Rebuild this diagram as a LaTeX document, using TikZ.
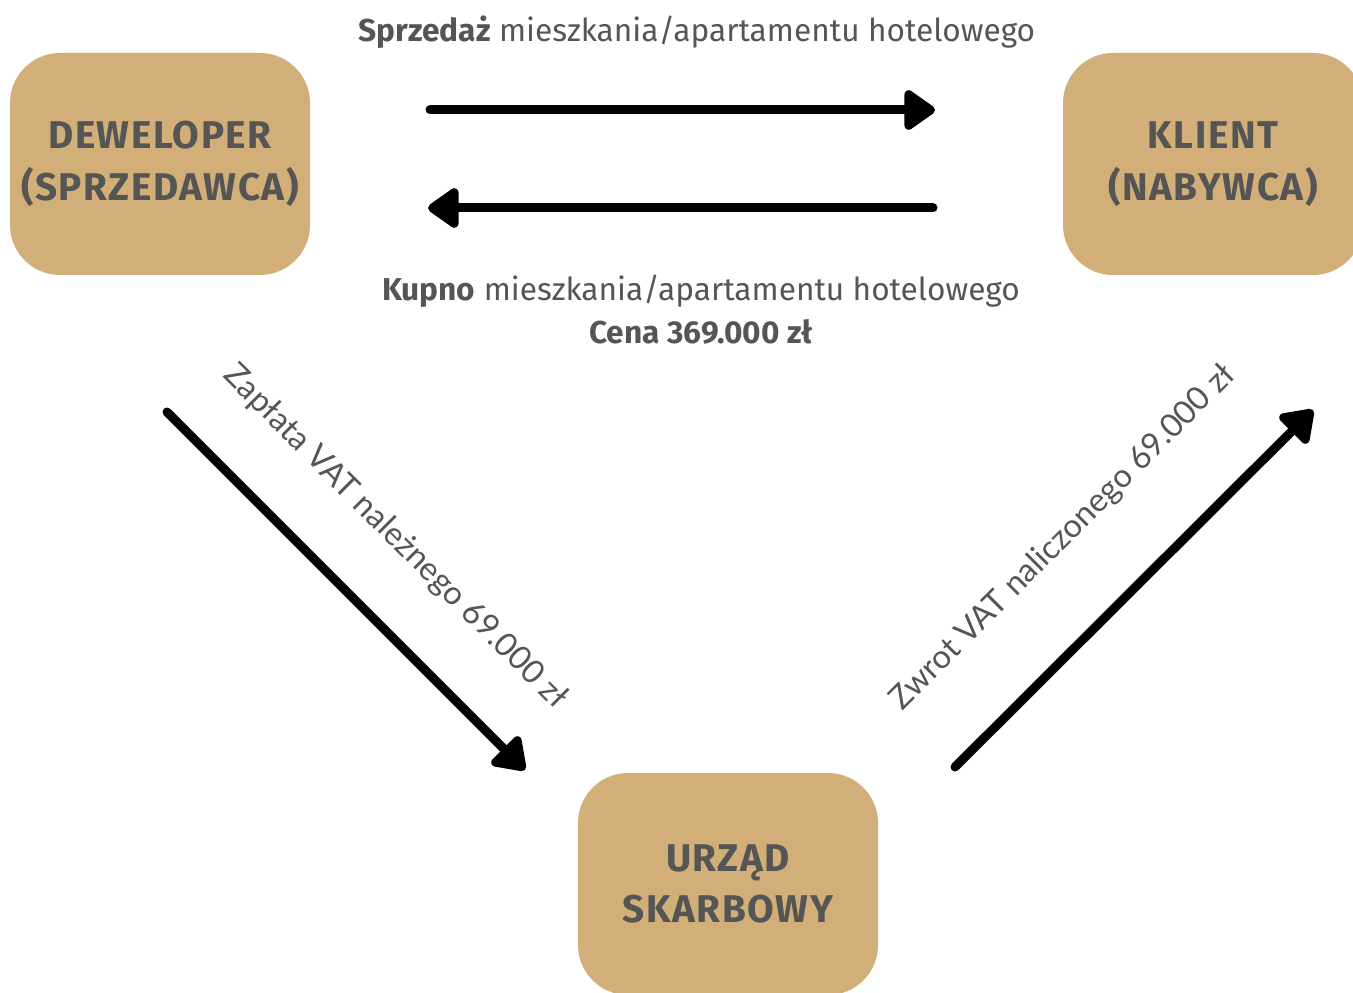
\documentclass[tikz,border=0pt]{standalone}
\usepackage{fontspec}
\setmainfont{Fira Sans}
\newfontfamily\boxfont[LetterSpace=4]{Fira Sans}
\newfontfamily\labelfont{Lato}
\usepackage{tikz}
\usetikzlibrary{arrows.meta, positioning}
\usepackage{xcolor}
\definecolor{boxgold}{HTML}{D2AF78}
\definecolor{textgrey}{HTML}{555555}

\begin{document}
\begin{tikzpicture}[
      party/.style={fill=boxgold, rounded corners=1cm, minimum width=6cm, minimum height=4.44cm, align=center, text=textgrey, font=\boxfont\fontsize{22}{29.5}\selectfont\bfseries},
      flow/.style={line width=0.18cm, line cap=round, -{Triangle[length=0.68cm, width=0.9cm, round]}},
      caption/.style={text=textgrey, align=center, font=\fontsize{18}{24.5}\selectfont},
      slanted/.style={text=textgrey, font=\labelfont\fontsize{18.5}{21}\selectfont}
    ]
    \useasboundingbox (0,0) rectangle (27.06,-19.84);
    % Nodes
    \node[party] (deweloper) at (3.2,-3.28) {DEWELOPER\\(SPRZEDAWCA)};
    \node[party] (klient) at (24.26,-3.28) {KLIENT\\(NABYWCA)};
    \node[party] (urzad) at (14.56,-17.68) {URZĄD\\SKARBOWY};

    % Arrow ends
    \coordinate (sellstart) at (8.6,-2.2);
    \coordinate (sellend) at (18.7,-2.2);
    \coordinate (buystart) at (18.66,-4.16);
    \coordinate (buyend) at (8.56,-4.16);
    \coordinate (vatstart) at (3.34,-8.24);
    \coordinate (vatend) at (10.5,-15.4);
    \coordinate (backstart) at (19.1,-15.34);
    \coordinate (backend) at (26.26,-8.2);

    % Arrows
    \draw[flow] (sellstart) -- (sellend);
    \draw[flow] (buystart) -- (buyend);
    \draw[flow] (vatstart) -- (vatend);
    \draw[flow] (backstart) -- (backend);

    % Labels
    \node[caption] (selltext) at (13.94,-0.64) {\textbf{Sprzedaż} mieszkania/apartamentu hotelowego};
    \node[caption] (buytext) at (14.02,-6.2) {\textbf{Kupno} mieszkania/apartamentu hotelowego\\\textbf{Cena 369.000 zł}};
    \node[slanted, rotate=-45] (vattext) at (7.9,-10.74) {Zapłata VAT należnego 69.000 zł};
    \node[slanted, rotate=45] (backtext) at (21.26,-10.76) {Zwrot VAT naliczonego 69.000 zł};
  \end{tikzpicture}
\end{document}
